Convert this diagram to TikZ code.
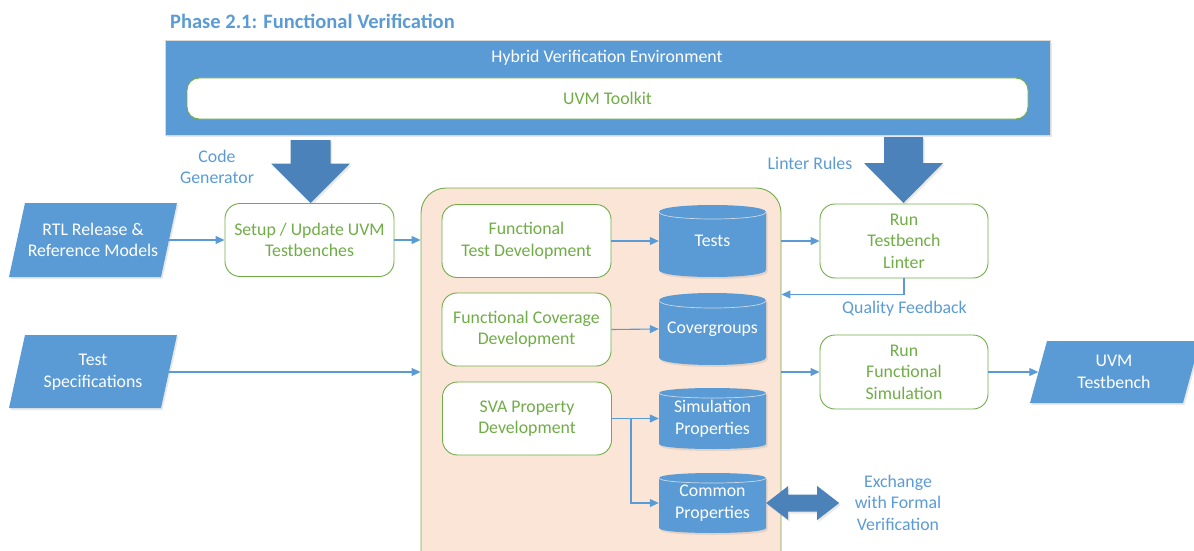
\documentclass[tikz,border=0pt]{standalone}
\usepackage{fontspec}
\setmainfont{Carlito}
\usetikzlibrary{arrows.meta,calc,shadows}
\definecolor{vblue}{HTML}{5B9BD5}
\definecolor{vdark}{HTML}{4A82B9}
\definecolor{vgreen}{HTML}{70AD47}
\definecolor{vpeach}{HTML}{FBE5D6}
\definecolor{vedge}{HTML}{C9D8E8}

\tikzset{softshadow/.style={drop shadow={shadow xshift=1.5pt, shadow yshift=-2pt,
  opacity=0.18, fill=gray}}}

% data store drawn as a cylinder: name, centre x, top y, bottom y, cap radius, text
\newcommand\dbstore[6]{%
  \fill[vblue, softshadow] ({#2-53.5},{#3+#5}) -- ({#2-53.5},{#4-#5})
    .. controls ({#2-53.5},{#4+0.333*#5}) and ({#2+53.5},{#4+0.333*#5}) .. ({#2+53.5},{#4-#5})
    -- ({#2+53.5},{#3+#5})
    .. controls ({#2+53.5},{#3-0.333*#5}) and ({#2-53.5},{#3-0.333*#5}) .. cycle;
  \draw[vedge, line width=0.7pt] ({#2-53.5},{#3+#5})
    .. controls ({#2-53.5},{#3+2.333*#5}) and ({#2+53.5},{#3+2.333*#5}) .. ({#2+53.5},{#3+#5});
  \node[dbtext, minimum height={(#4-#3)*1pt}] (#1) at ({#2},{(#3+#4)/2}) {#6};
}

\begin{document}
\begin{tikzpicture}[x=1pt,y=-1pt,
  every node/.style={font=\fontsize{17.8}{21.5}\selectfont},
  proc/.style={draw=vgreen, line width=0.9pt, fill=white, rounded corners=15pt,
    text=vgreen, align=center, minimum width=169pt, minimum height=73pt, inner sep=0pt},
  plain/.style={text=vblue, align=center, inner sep=0pt},
  dbtext/.style={text=white, align=center, minimum width=107pt, inner sep=0pt},
  datatext/.style={text=white, align=center, inner sep=0pt},
  conn/.style={draw=vblue, line width=1.1pt, -{Triangle[length=9pt,width=8pt]}},
  bigarrow/.style={fill=vdark, softshadow},
]
\useasboundingbox (0,0) rectangle (1194,551);
\clip (0,0) rectangle (1194,551);

% heading
\node[plain, font=\fontsize{20.5}{24}\selectfont\bfseries, anchor=west] (title) at (170,21)
  {Phase 2.1: Functional Verification};

% environment bar
\node[draw=gray!30, line width=1pt, fill=vblue, softshadow, minimum width=885pt,
  minimum height=94pt, inner sep=0pt] (hve) at (607.5,88) {};
\node[text=white, inner sep=0pt] (hvelabel) at (607,58) {Hybrid Verification Environment};
\node[proc, minimum width=841pt, minimum height=41pt, rounded corners=12pt] (uvm)
  at (607.5,98.5) {UVM Toolkit};

% block arrows from the environment
\fill[bigarrow] (290.5,140) -- (330.5,140) -- (330.5,163.5) -- (350,163.5) -- (310.5,203)
  -- (271,163.5) -- (290.5,163.5) -- cycle;
\fill[bigarrow] (884,137) -- (923,137) -- (923,163) -- (943,163) -- (903.5,203)
  -- (864,163) -- (884,163) -- cycle;
\node[plain] (cglabel) at (217,167) {Code\\Generator};
\node[plain] (lrlabel) at (810,163) {Linter Rules};

% development area
\node[draw=vgreen, line width=0.9pt, fill=vpeach, rounded corners=25pt,
  minimum width=360pt, minimum height=400pt, inner sep=0pt] (work) at (601,388) {};

% process steps
\node[proc] (setup) at (309.5,240) {Setup / Update UVM\\Testbenches};
\node[proc] (ftd) at (526.5,241) {Functional\\Test Development};
\node[proc] (fcd) at (526.5,329.5) {Functional Coverage\\Development};
\node[proc] (sva) at (527,418.5) {SVA Property\\Development};
\node[proc, minimum width=168pt, minimum height=74pt] (lint) at (904,241) {Run\\Testbench\\Linter};
\node[proc, minimum width=168pt, minimum height=74pt] (rfs) at (904,372) {Run\\Functional\\Simulation};

% data stores
\dbstore{tests}{712.5}{205}{277}{7}{Tests}
\dbstore{cov}{712.5}{293}{365}{7.5}{Covergroups}
\dbstore{simp}{712.5}{388}{449}{5}{Simulation\\Properties}
\dbstore{comp}{712.5}{473}{533}{5}{Common\\Properties}

% inputs and outputs
\fill[vblue, softshadow] (25,203) -- (177,203) -- (161,277) -- (9,277) -- cycle;
\node[datatext, minimum width=152pt, minimum height=74pt] (rtl) at (93,240)
  {RTL Release \&\\Reference Models};
\fill[vblue, softshadow] (25,335) -- (177,335) -- (161,408) -- (9,408) -- cycle;
\node[datatext, minimum width=152pt, minimum height=73pt] (tspec) at (93,372)
  {Test\\Specifications};
\fill[vblue, softshadow] (1047,341) -- (1200,341) -- (1183,403) -- (1030,403) -- cycle;
\node[datatext, minimum width=151pt, minimum height=62pt] (uvmtb) at (1114,372)
  {UVM\\Testbench};

% connectors
\draw[conn] (rtl.east) -- (setup.west);
\draw[conn] (setup.east) -- (setup.east -| work.west);
\draw[conn] (tspec.east) -- (tspec.east -| work.west);
\draw[conn] (ftd.east) -- (tests.west);
\draw[conn] (fcd.east) -- (cov.west);
\draw[conn] (sva.east) -- (simp.west);
\coordinate (split) at ($(sva.east)+(19,0)$);
\draw[conn] (split) |- (comp.west);
\draw[conn] (work.east |- lint.west) -- (lint.west);
\coordinate (fb) at ($(lint.south)+(0,16)$);
\draw[conn] (lint.south) -- (fb) -- (fb -| work.east);
\draw[conn] (work.east |- rfs.west) -- (rfs.west);
\draw[conn] (rfs.east) -- (uvmtb.west);
\node[plain] (fblabel) at (904.5,309) {Quality Feedback};

% exchange with formal verification
\coordinate (xa) at (comp.east);
\fill[vdark, softshadow] (xa) -- ++(22,-17) -- ++(0,8.5) -- ++(29,0) -- ++(0,-8.5) -- ++(22,17)
  -- ++(-22,17) -- ++(0,-8.5) -- ++(-29,0) -- ++(0,8.5) -- cycle;
\node[plain] (xlabel) at (898,502.5) {Exchange\\with Formal\\Verification};
\end{tikzpicture}
\end{document}
